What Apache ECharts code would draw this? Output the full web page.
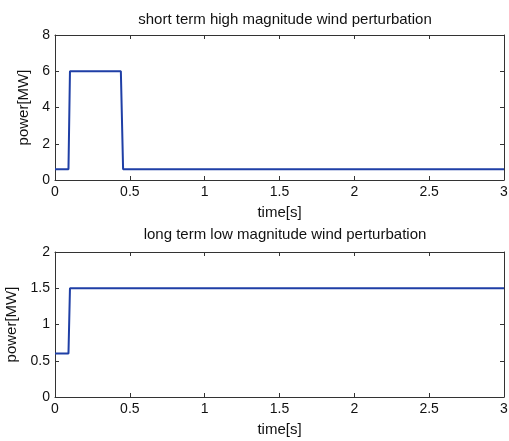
<!DOCTYPE html>
<html><head><meta charset="utf-8">
<script src="https://cdn.jsdelivr.net/npm/echarts@6/dist/echarts.min.js"></script>
<style>html,body{margin:0;padding:0;background:#fff}#c{width:509px;height:441px}</style>
</head><body><div id="c"></div>
<script>
const titles = ['short term high magnitude wind perturbation', 'long term low magnitude wind perturbation'];
const xLabel = 'time[s]';
const yLabel = 'power[MW]';
const shortTime = [0, 0.09, 0.1, 0.44, 0.455, 3];
const shortPower = [0.6, 0.6, 6, 6, 0.6, 0.6];
const longTime = [0, 0.09, 0.1, 3];
const longPower = [0.6, 0.6, 1.5, 1.5];
const xTicks = [0, 0.5, 1, 1.5, 2, 2.5, 3];
const yTicksTop = [0, 2, 4, 6, 8];
const yTicksBottom = [0, 0.5, 1, 1.5, 2];

const font = 'Liberation Sans, Arial, Helvetica, sans-serif';
const lineColor = '#333';
const grids = [
  {left: 55, right: 5, top: 35, height: 145, outerBoundsMode: 'none', containLabel: false},
  {left: 55, right: 5, top: 252, height: 145, outerBoundsMode: 'none', containLabel: false}
];
function xAx(gi, pos, labels) {
  return {
    type: 'value', gridIndex: gi, position: pos, min: xTicks[0], max: xTicks[xTicks.length-1], interval: 0.5,
    axisLine: {show: true, onZero: false, lineStyle: {color: lineColor, width: 1}},
    axisTick: {show: true, inside: true, length: 4, lineStyle: {color: lineColor}},
    axisLabel: {show: labels, color: '#111', fontSize: 14, fontFamily: font, margin: 5},
    splitLine: {show: false},
    name: labels ? xLabel : '', nameLocation: 'middle', nameGap: 25,
    nameTextStyle: {color: '#111', fontSize: 15, fontFamily: font}
  };
}
function yAx(gi, pos, labels, ticks, gap) {
  return {
    type: 'value', gridIndex: gi, position: pos, min: ticks[0], max: ticks[ticks.length-1], interval: ticks[1]-ticks[0],
    axisLine: {show: true, onZero: false, lineStyle: {color: lineColor, width: 1}},
    axisTick: {show: true, inside: true, length: 4, lineStyle: {color: lineColor}},
    axisLabel: {show: labels, color: '#111', fontSize: 14, fontFamily: font, margin: 5},
    splitLine: {show: false},
    name: labels ? yLabel : '', nameLocation: 'middle', nameGap: gap, nameRotate: 90,
    nameTextStyle: {color: '#111', fontSize: 15, fontFamily: font}
  };
}
const chart = echarts.init(document.getElementById('c'), null, {renderer: 'canvas'});
chart.setOption({
  animation: false,
  backgroundColor: '#fff',
  title: [
    {text: titles[0], left: 280, top: 7, textAlign: 'center', textStyle: {fontSize: 15, fontWeight: 'normal', color: '#111', fontFamily: font}},
    {text: titles[1], left: 280, top: 222, textAlign: 'center', textStyle: {fontSize: 15, fontWeight: 'normal', color: '#111', fontFamily: font}}
  ],
  grid: grids,
  xAxis: [xAx(0, 'bottom', true), xAx(0, 'top', false), xAx(1, 'bottom', true), xAx(1, 'top', false)],
  yAxis: [yAx(0, 'left', true, yTicksTop, 22), yAx(0, 'right', false, yTicksTop, 0), yAx(1, 'left', true, yTicksBottom, 29), yAx(1, 'right', false, yTicksBottom, 0)],
  series: [
    {type: 'line', xAxisIndex: 0, yAxisIndex: 0, data: shortTime.map((t, i) => [t, shortPower[i]]), showSymbol: false, lineStyle: {color: '#1f3fa6', width: 2}},
    {type: 'line', xAxisIndex: 2, yAxisIndex: 2, data: longTime.map((t, i) => [t, longPower[i]]), showSymbol: false, lineStyle: {color: '#1f3fa6', width: 2}}
  ]
});
</script></body></html>
